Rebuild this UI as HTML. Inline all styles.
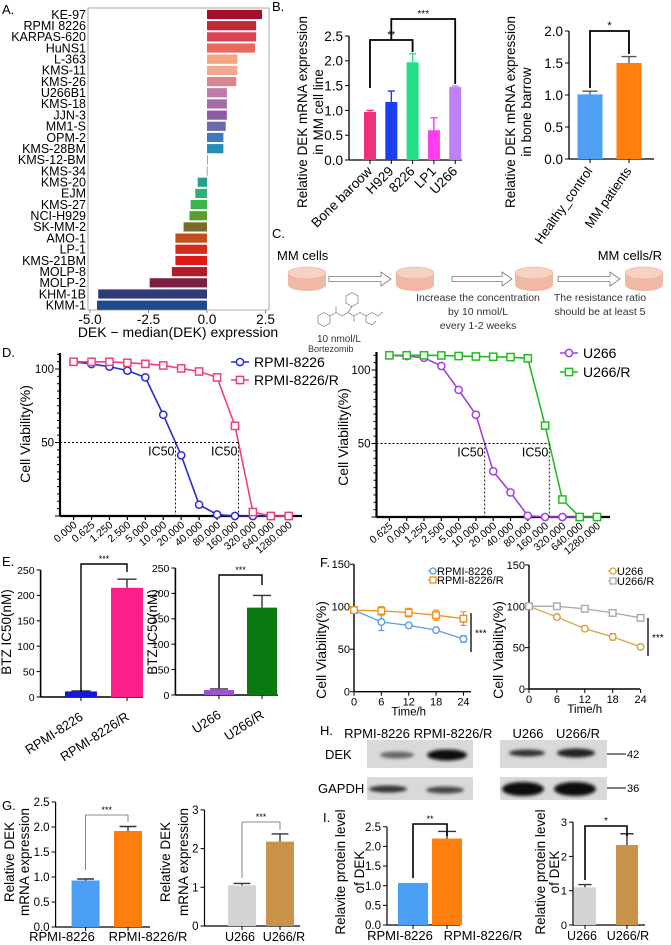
<!DOCTYPE html>
<html><head><meta charset="utf-8"><style>
body{margin:0;background:#fff}
svg{display:block;font-family:"Liberation Sans",Arial,sans-serif}
</style></head><body>
<svg id="fig" width="671" height="945" viewBox="0 0 671 945" xmlns="http://www.w3.org/2000/svg">
<defs>
<filter id="blur1" x="-20%" y="-50%" width="140%" height="200%"><feGaussianBlur stdDeviation="1.6"/></filter>
</defs>
<rect x="0" y="0" width="671" height="945" fill="#fff"/>
<text x="2" y="14" font-size="13">A.</text>
<text x="272" y="11" font-size="13">B.</text>
<text x="272" y="238" font-size="13">C.</text>
<text x="2" y="357" font-size="13">D.</text>
<text x="2" y="566" font-size="13">E.</text>
<text x="320" y="567" font-size="13">F.</text>
<text x="320" y="735" font-size="13">H.</text>
<text x="2" y="810" font-size="13">G.</text>
<text x="323" y="822" font-size="13">I.</text>

<rect x="88" y="8" width="181" height="302" fill="none" stroke="#aaa" stroke-width="1"/>
<text x="178" y="337" font-size="14" text-anchor="middle">DEK − median(DEK) expression</text>

<g>
<text x="277" y="260" font-size="13">MM cells</text>
<text x="662" y="260" font-size="13" text-anchor="end">MM cells/R</text>
<g><rect x="288" y="273" width="38" height="12" fill="#efb9a4"/><ellipse cx="307" cy="285" rx="19" ry="6" fill="#efb9a4"/><ellipse cx="307" cy="273" rx="19" ry="6" fill="#f6d2c4" stroke="#e8a890" stroke-width="0.6"/></g>
<g><rect x="396" y="273" width="38" height="12" fill="#efb9a4"/><ellipse cx="415" cy="285" rx="19" ry="6" fill="#efb9a4"/><ellipse cx="415" cy="273" rx="19" ry="6" fill="#f6d2c4" stroke="#e8a890" stroke-width="0.6"/></g>
<g><rect x="515" y="273" width="38" height="12" fill="#efb9a4"/><ellipse cx="534" cy="285" rx="19" ry="6" fill="#efb9a4"/><ellipse cx="534" cy="273" rx="19" ry="6" fill="#f6d2c4" stroke="#e8a890" stroke-width="0.6"/></g>
<g><rect x="625" y="273" width="38" height="12" fill="#efb9a4"/><ellipse cx="644" cy="285" rx="19" ry="6" fill="#efb9a4"/><ellipse cx="644" cy="273" rx="19" ry="6" fill="#f6d2c4" stroke="#e8a890" stroke-width="0.6"/></g>
<polygon points="329,276.5 381,276.5 381,272 391,279 381,286 381,281.5 329,281.5" fill="#fff" stroke="#777" stroke-width="0.8"/>
<polygon points="452,276.5 502,276.5 502,272 512,279 502,286 502,281.5 452,281.5" fill="#fff" stroke="#777" stroke-width="0.8"/>
<polygon points="558,276.5 610,276.5 610,272 620,279 610,286 610,281.5 558,281.5" fill="#fff" stroke="#777" stroke-width="0.8"/>
<text x="478" y="301" font-size="10.5" text-anchor="middle" fill="#333">Increase the concentration</text>
<text x="478" y="315" font-size="10.5" text-anchor="middle" fill="#333">by 10 nmol/L</text>
<text x="478" y="329" font-size="10.5" text-anchor="middle" fill="#333">every 1-2 weeks</text>
<text x="600" y="301" font-size="10.5" text-anchor="middle" fill="#333">The resistance ratio</text>
<text x="600" y="315" font-size="10.5" text-anchor="middle" fill="#333">should be at least 5</text>
<text x="317" y="342" font-size="10" fill="#333">10 nmol/L</text>
<text x="308" y="352" font-size="9" fill="#333">Bortezomib</text>
<g fill="none" stroke="#777" stroke-width="0.7">
<polygon points="318,316 324,312.5 330,316 330,323 324,326.5 318,323"/>
<polygon points="346,296 352,292.5 358,296 358,303 352,306.5 346,303"/>
<polyline points="330,316 336,312.5 342,316 348,312.5 352,306.5"/>
<polyline points="336,312.5 336,306"/>
<polyline points="348,312.5 354,316 360,312.5 366,316 366,322 372,325 376,321"/>
<polyline points="354,316 354,322"/>
<polyline points="366,316 372,312.5 378,316 383,312"/>
</g>
</g>
</svg>
<script>
const NS='http://www.w3.org/2000/svg';
const svg=document.getElementById('fig');
function mk(tag,attrs,parent){const e=document.createElementNS(NS,tag);for(const k in attrs)e.setAttribute(k,attrs[k]);(parent||svg).appendChild(e);return e;}
function tx(x,y,s,attrs,parent){const e=mk('text',Object.assign({x:x,y:y},attrs||{}),parent);e.textContent=s;return e;}

const aNames=['KE-97','RPMI 8226','KARPAS-620','HuNS1','L-363','KMS-11','KMS-26','U266B1','KMS-18','JJN-3','MM1-S','OPM-2','KMS-28BM','KMS-12-BM','KMS-34','KMS-20','EJM','KMS-27','NCI-H929','SK-MM-2','AMO-1','LP-1','KMS-21BM','MOLP-8','MOLP-2','KHM-1B','KMM-1'];
const aVals=[2.35,2.1,2.1,2.05,1.3,1.3,1.25,0.85,0.85,0.85,0.8,0.7,0.7,0.02,-0.01,-0.4,-0.5,-0.7,-0.75,-1.0,-1.35,-1.35,-1.35,-1.5,-2.45,-4.65,-4.7];
const aColors=['#a50f2d','#c4283c','#d94452','#e8685f','#f4a582','#f2a88e','#d8868e','#c07aa8','#a66aa6','#8c5cab','#6a6aa8','#3f7ab5','#2a8cb5','#888','#888','#2aa08a','#2fb07a','#3cb44a','#5a9e30','#7a6b28','#c05020','#d82a1a','#e01818','#b01c2a','#7a2040','#303a78','#1e4a8a'];
const aTicks=[-5,-2.5,0,2.5];
const aTickLabels=['-5.0','-2.5','0.0','2.5'];

const bCats=['Bone baroow','H929','8226','LP1','U266'];
const bVals=[0.97,1.17,1.97,0.6,1.47];
const bErrs=[0.03,0.22,0.17,0.25,0.02];
const bColors=['#f0307f','#1b3ff0','#22e08a','#ff3cf0','#c080f5'];
const bTicks=[0,0.5,1,1.5,2,2.5];
const bTickLabels=['0.0','0.5','1.0','1.5','2.0','2.5'];
const b2Cats=['Healthy_control','MM patients'];
const b2Vals=[1.01,1.5];
const b2Errs=[0.05,0.1];
const b2Ticks=[0,0.5,1,1.5,2];
const b2TickLabels=['0.0','0.5','1.0','1.5','2.0'];

const dLabels=['0.000','0.625','1.250','2.500','5.000','10.000','20.000','40.000','80.000','160.000','320.000','640.000','1280.000'];
const dBlue=[104.9,103.4,101.6,98.9,94.3,68.9,41.3,7.7,1,0,0,0,0];
const dPink=[104.9,104.9,104.9,104.2,103.5,102.4,100.4,98.3,94.3,61.3,2.7,0,0];
const dLabelsR=['0.625','0.000','1.250','2.500','5.000','10.000','20.000','40.000','80.000','160.000','320.000','640.000','1280.000'];
const dPurple=[110,109.5,108.3,102.7,86.5,69.6,31.1,16.7,0.9,0,0,0,0];
const dGreen=[110,110,110,109.9,109.5,109.2,109,108.8,107.9,62.2,11.9,0,0];
const dTicks=[50,100];

const eCats=['RPMI-8226','RPMI-8226/R'];
const eVals=[11,215];
const eErrs=[1,17];
const e2Cats=['U266','U266/R'];
const e2Vals=[10,172];
const e2Errs=[2,24];
const eTicks=[0,50,100,150,200,250];

const fTimes=[0,6,12,18,24];
const fBlue=[96,82,78,72.5,62];
const fBlueErr=[3,10,3,2,4];
const fOrange=[96,95,93,90,86];
const fOrangeErr=[3,5,5,6,8];
const fTan=[100,87,73,63,51];
const fTanErr=[0,3,3,4,1];
const fGray=[100,100,97,92,86];
const fGrayErr=[0,1,1,1,1];
const fTicks=[0,50,100,150];

const gCats=['RPMI-8226','RPMI-8226/R'];
const gVals=[0.93,1.92];
const gErrs=[0.03,0.09];
const gTicks=[0,0.5,1,1.5,2,2.5];
const gTickLabels=['0.0','0.5','1.0','1.5','2.0','2.5'];
const g2Cats=['U266','U266/R'];
const g2Vals=[1.05,2.18];
const g2Errs=[0.05,0.2];
const g2Ticks=[0,1,2,3];
const iVals=[1.07,2.2];
const iErrs=[0,0.18];
const iTicks=[0,0.5,1,1.5,2,2.5];
const i2Vals=[1.1,2.33];
const i2Errs=[0.08,0.33];
const i2Ticks=[0,1,2,3];

(function(){
  const g=mk('g',{});
  
  
  const xs=v=>207+v*23.4;
  const rowY=i=>14.5+i*11.18;
  aNames.forEach((n,i)=>{
    const v=aVals[i];
    const x0=Math.min(xs(0),xs(v)), w=Math.max(Math.abs(xs(v)-xs(0)),0.8);
    const r=mk('rect',{x:x0,y:rowY(i)-4.6,width:w,height:9.2,fill:aColors[i]},g);
    
    
    const t=tx(86,rowY(i)+4.3,n,{'font-size':12.5,'text-anchor':'end'},g);
    
    
  });
  aTicks.forEach((v,i)=>{
    const l=mk('line',{x1:xs(v),x2:xs(v),y1:310,y2:313,stroke:'#888'},g);
    
    
    const t=tx(xs(v),324,aTickLabels[i],{'font-size':13.5,'text-anchor':'middle'},g);
    
    
  });
})();

function barChart(o){
  const g=mk('g',{});
  
  
  const ys=v=>o.y0-(v-o.ticks[0])*o.k;
  const top=ys(o.ticks[o.ticks.length-1]);
  const ax=mk('line',{x1:o.ax,x2:o.ax,y1:top,y2:o.y0,stroke:'#000','stroke-width':o.aw||1.3},g);
  
  
  const bx=mk('line',{x1:o.ax,x2:o.axEnd,y1:o.y0,y2:o.y0,stroke:'#000','stroke-width':o.aw||1.3},g);
  
  
  o.ticks.forEach((v,i)=>{
    const l=mk('line',{x1:o.ax-4,x2:o.ax,y1:ys(v),y2:ys(v),stroke:'#000','stroke-width':1},g);
    
    
    const t=tx(o.ax-6,ys(v)+o.fs*0.36,o.tickLabels?o.tickLabels[i]:String(v),{'font-size':o.fs,'text-anchor':'end'},g);
    
    
  });
  o.vals.forEach((v,i)=>{
    const cx=o.x0+i*o.step;
    const r=mk('rect',{x:cx-o.bw/2,y:ys(v),width:o.bw,height:o.y0-ys(v),fill:o.colors[i]},g);
    
    
    if(o.errs[i]>0){
      const ec=o.errColor||o.colors[i];
      const e=mk('path',{d:`M${cx},${ys(v)} V${ys(v+o.errs[i])} M${cx-o.bw*0.3},${ys(v+o.errs[i])} H${cx+o.bw*0.3}`,stroke:ec,'stroke-width':1.4,fill:'none'},g);
      
      
    }
    const tk=mk('line',{x1:cx,x2:cx,y1:o.y0,y2:o.y0+4,stroke:'#000'},g);
    
    
    let t;
    if(o.rot){
      t=tx(cx+3,o.y0+o.labDy,o.cats[i],{'font-size':o.lfs,'text-anchor':'end',transform:`rotate(${o.rot},${cx+3},${o.y0+o.labDy})`},g);
    }else{
      const lx=o.labX?o.labX[i]:cx;
      t=tx(lx,o.y0+o.labDy,o.cats[i],{'font-size':o.lfs,'text-anchor':'middle'},g);
    }
    
    
  });
  o.title.forEach((s,j)=>{
    const x=o.titleX[j];
    const t=tx(x,o.titleY,s,{'font-size':o.tfs,'text-anchor':'middle',transform:`rotate(-90,${x},${o.titleY})`},g);
    
    
  });
  (o.brackets||[]).forEach(b=>{
    const xa=o.x0+b.a*o.step, xb=o.x0+b.b*o.step;
    const p=mk('path',{d:`M${xa},${b.ya} V${b.y} H${xb} V${b.yb}`,stroke:b.color||'#000','stroke-width':b.w||1.8,fill:'none'},g);
    
    
    const s=tx((xa+xb)/2,b.y-2,b.s,{'font-size':b.fs||10,'text-anchor':'middle'},g);
    
    
  });
  return ys;
}

barChart({name:'panel-b-cell-line-chart',ax:349,axEnd:462,y0:160,k:49.6,ticks:bTicks,tickLabels:bTickLabels,fs:13.5,
  cats:bCats,vals:bVals,errs:bErrs,colors:bColors,x0:370,step:21.3,bw:12,rot:-45,labDy:12,lfs:13.5,
  title:['Relative DEK mRNA expression','in MM cell line'],titleX:[307,323],titleY:112,tfs:13.5,
  brackets:[{a:0,b:2,y:40,ya:88,yb:52,s:'**',fs:10},{a:1,b:4,y:19,ya:40,yb:84,s:'***',fs:10}]});
barChart({name:'panel-b-bone-marrow-chart',ax:569,axEnd:654,y0:159,k:64,ticks:b2Ticks,tickLabels:b2TickLabels,fs:13.5,
  cats:b2Cats,vals:b2Vals,errs:b2Errs,colors:['#4f9ff5','#ff7f0e'],x0:590,step:39,bw:25,rot:-55,labDy:12,lfs:13,errColor:'#555',
  title:['Relative DEK mRNA expression','in bone barrow'],titleX:[515,531],titleY:112,tfs:13.5,
  brackets:[{a:0,b:1,y:31,ya:88,yb:54,s:'*',fs:11}]});

function doseChart(o){
  const g=mk('g',{});
  
  
  const ys=v=>o.y0-v*1.47;
  const xs=i=>o.x0+i*o.step;
  const ya=mk('line',{x1:o.ax,x2:o.ax,y1:o.top,y2:o.y0,stroke:'#000','stroke-width':2.2},g);
  
  
  const xa=mk('line',{x1:o.ax,x2:o.axEnd,y1:o.y0,y2:o.y0,stroke:'#000','stroke-width':2.2},g);
  
  
  for(let v=0;v<=110;v+=5){
    const m=mk('line',{x1:o.ax-(v%50===0?5:3),x2:o.ax,y1:ys(v),y2:ys(v),stroke:'#000','stroke-width':1},g);
    
    
  }
  dTicks.forEach(v=>{
    const t=tx(o.ax-6,ys(v)+4,String(v),{'font-size':11.5,'text-anchor':'end'},g);
    
    
  });
  o.labels.forEach((s,i)=>{
    const tk=mk('line',{x1:xs(i),x2:xs(i),y1:o.y0,y2:o.y0+4,stroke:'#000','stroke-width':1.2},g);
    
    
    const lx=xs(i)+4, ly=o.y0+10;
    const t=tx(lx,ly,s,{'font-size':10.5,'text-anchor':'end',transform:`rotate(-40,${lx},${ly})`},g);
    
    
  });
  const yt=tx(o.titleX,o.titleY,'Cell Viability(%)',{'font-size':14,'text-anchor':'middle',transform:`rotate(-90,${o.titleX},${o.titleY})`},g);
  
  
  const ic=[];
  o.series.forEach((s,si)=>{
    const d=s.data;
    const pl=mk('polyline',{points:d.map((v,i)=>xs(i)+','+ys(v)).join(' '),fill:'none',stroke:s.color,'stroke-width':1.6},g);
    
    
    d.forEach((v,i)=>{
      let m;
      if(s.shape==='circle') m=mk('circle',{cx:xs(i),cy:ys(v),r:3.6,fill:'#fff',stroke:s.color,'stroke-width':1.5},g);
      else m=mk('rect',{x:xs(i)-3.6,y:ys(v)-3.6,width:7.2,height:7.2,fill:'#fff',stroke:s.color,'stroke-width':1.5},g);
      
      
    });
    for(let i=0;i<d.length-1;i++){ if(d[i]>=50&&d[i+1]<50){ic.push(xs(i+(d[i]-50)/(d[i]-d[i+1])));break;} }
    const ly=o.legY[si];
    const ll=mk('line',{x1:o.legX,x2:o.legX+18,y1:ly,y2:ly,stroke:s.color,'stroke-width':1.6},g);
    
    
    let lm;
    if(s.shape==='circle') lm=mk('circle',{cx:o.legX+9,cy:ly,r:3.6,fill:'#fff',stroke:s.color,'stroke-width':1.5},g);
    else lm=mk('rect',{x:o.legX+5.4,y:ly-3.6,width:7.2,height:7.2,fill:'#fff',stroke:s.color,'stroke-width':1.5},g);
    
    
    const lt=tx(o.legX+23,ly+5,s.label,{'font-size':14},g);
    
    
  });
  const hx=Math.max(...ic);
  const hl=mk('line',{x1:o.ax,x2:hx,y1:ys(50),y2:ys(50),stroke:'#000','stroke-width':0.9,'stroke-dasharray':'2,2'},g);
  
  
  ic.forEach(x=>{
    const vl=mk('line',{x1:x,x2:x,y1:ys(50),y2:o.y0,stroke:'#000','stroke-width':0.9,'stroke-dasharray':'2,2'},g);
    
    
    const t=tx(x-1,ys(50)+13,'IC50',{'font-size':12.5,'text-anchor':'end'},g);
    
    
  });
}
doseChart({name:'panel-d-rpmi-dose-chart',ax:60,axEnd:302,top:353,y0:516,x0:73.6,step:17.93,labels:dLabels,titleX:30,titleY:434,
  legX:231,legY:[362,380],series:[{key:'rpmi-8226',label:'RPMI-8226',data:dBlue,color:'#2a2ad8',shape:'circle'},{key:'rpmi-8226-r',label:'RPMI-8226/R',data:dPink,color:'#f0407a',shape:'square'}]});
doseChart({name:'panel-d-u266-dose-chart',ax:376.5,axEnd:610,top:352,y0:517,x0:389.4,step:17.3,labels:dLabelsR,titleX:348,titleY:437,
  legX:560,legY:[353,372],series:[{key:'u266',label:'U266',data:dPurple,color:'#a040e0',shape:'circle'},{key:'u266-r',label:'U266/R',data:dGreen,color:'#22bb22',shape:'square'}]});

barChart({name:'panel-e-rpmi-ic50-chart',ax:40.6,axEnd:143,y0:697,k:0.508,ticks:eTicks,fs:10.5,
  cats:eCats,vals:eVals,errs:eErrs,colors:['#1515e0','#ff1f8a'],x0:81,step:46,bw:32,errColor:'#333',rot:-33,labDy:22,lfs:13,
  title:['BTZ IC50(nM)'],titleX:[11],titleY:632,tfs:13.5,aw:1.6,
  brackets:[{a:0,b:1,y:564,ya:692,yb:572,s:'***',fs:9,w:1.4}]});
barChart({name:'panel-e-u266-ic50-chart',ax:175.4,axEnd:278,y0:695,k:0.508,ticks:eTicks,fs:10.5,
  cats:e2Cats,vals:e2Vals,errs:e2Errs,colors:['#a050d0','#0a7a10'],x0:219,step:43,bw:30,errColor:'#333',rot:-33,labDy:22,lfs:13,
  title:['BTZ IC50(nM)'],titleX:[157],titleY:632,tfs:13.5,aw:1.6,
  brackets:[{a:0,b:1,y:575,ya:688,yb:585,s:'***',fs:9,w:1.4}]});

function timeChart(o){
  const g=mk('g',{});
  
  
  const ys=v=>o.y0-v*o.k;
  const xs=t=>o.ax+t*o.kx;
  const ya=mk('line',{x1:o.ax,x2:o.ax,y1:ys(150),y2:o.y0,stroke:'#000','stroke-width':1.4},g);
  
  
  const xa=mk('line',{x1:o.ax,x2:o.axEnd,y1:o.y0,y2:o.y0,stroke:'#000','stroke-width':1.4},g);
  
  
  fTicks.forEach(v=>{
    const l=mk('line',{x1:o.ax-4,x2:o.ax,y1:ys(v),y2:ys(v),stroke:'#000'},g);
    
    
    const t=tx(o.ax-4,ys(v)+4,String(v),{'font-size':11,'text-anchor':'end'},g);
    
    
  });
  fTimes.forEach(tm=>{
    const l=mk('line',{x1:xs(tm),x2:xs(tm),y1:o.y0,y2:o.y0+4,stroke:'#000'},g);
    
    
    const t=tx(xs(tm),o.y0+14,String(tm),{'font-size':11,'text-anchor':'middle'},g);
    
    
  });
  const xt=tx(xs(12),o.y0+24,'Time/h',{'font-size':11.5,'text-anchor':'middle'},g);
  
  
  const yt=tx(o.titleX,650,'Cell Viability(%)',{'font-size':14,'text-anchor':'middle',transform:`rotate(-90,${o.titleX},650)`},g);
  
  
  o.series.forEach((s,si)=>{
    const pl=mk('polyline',{points:fTimes.map((t,i)=>xs(t)+','+ys(s.data[i])).join(' '),fill:'none',stroke:s.color,'stroke-width':1.3},g);
    
    
    fTimes.forEach((t,i)=>{
      const v=s.data[i], e=s.err[i];
      if(e>0){
        const eb=mk('path',{d:`M${xs(t)},${ys(v-e)} V${ys(v+e)} M${xs(t)-3},${ys(v-e)} H${xs(t)+3} M${xs(t)-3},${ys(v+e)} H${xs(t)+3}`,stroke:s.color,'stroke-width':1.2,fill:'none'},g);
        
        
      }
      let m;
      if(s.shape==='circle') m=mk('circle',{cx:xs(t),cy:ys(v),r:3.3,fill:'#fff',stroke:s.color,'stroke-width':1.4},g);
      else m=mk('rect',{x:xs(t)-3.3,y:ys(v)-3.3,width:6.6,height:6.6,fill:'#fff',stroke:s.color,'stroke-width':1.4},g);
      
      
    });
    const ly=o.legY[si];
    const ll=mk('line',{x1:o.legX-5,x2:o.legX+5,y1:ly,y2:ly,stroke:s.color,'stroke-width':1.2},g);
    
    
    let lm;
    if(s.shape==='circle') lm=mk('circle',{cx:o.legX,cy:ly,r:3,fill:'#fff',stroke:s.color,'stroke-width':1.3},g);
    else lm=mk('rect',{x:o.legX-3,y:ly-3,width:6,height:6,fill:'#fff',stroke:s.color,'stroke-width':1.3},g);
    
    
    const lt=tx(o.legX+4,ly+4,s.label,{'font-size':11},g);
    
    
  });
  const sb=mk('line',{x1:o.sigX,x2:o.sigX,y1:o.sigY[0],y2:o.sigY[1],stroke:'#000','stroke-width':1.3},g);
  
  
  const st=tx(o.sigX+4,(o.sigY[0]+o.sigY[1])/2+4,'***',{'font-size':10},g);
  
  
}
timeChart({name:'panel-f-rpmi-time-chart',ax:354,axEnd:471,y0:691.7,k:0.85,kx:4.56,titleX:326,legX:433,legY:[571,580],sigX:471,sigY:[613,652],
  series:[{key:'rpmi-8226',label:'RPMI-8226',data:fBlue,err:fBlueErr,color:'#5a9ee8',shape:'circle'},{key:'rpmi-8226-r',label:'RPMI-8226/R',data:fOrange,err:fOrangeErr,color:'#f0901a',shape:'square'}]});
timeChart({name:'panel-f-u266-time-chart',ax:529,axEnd:640,y0:689,k:0.827,kx:4.65,titleX:503,legX:613,legY:[571,581],sigX:648,sigY:[618,656],
  series:[{key:'u266',label:'U266',data:fTan,err:fTanErr,color:'#d8a040',shape:'circle'},{key:'u266-r',label:'U266/R',data:fGray,err:fGrayErr,color:'#a8a8a8',shape:'square'}]});

(function(){
  const g=mk('g',{});
  
  
  const cols=[['RPMI-8226',377],['RPMI-8226/R',453],['U266',528],['U266/R',578]];
  cols.forEach(c=>{
    const t=tx(c[1],738,c[0],{'font-size':13,'text-anchor':'middle'},g);
    
    
  });
  const boxes=[[367,740,106,28],[500,740,107,28],[367,777,106,23],[500,777,107,23]];
  boxes.forEach(b=>{
    const r=mk('rect',{x:b[0],y:b[1],width:b[2],height:b[3],fill:'#d9d9d9'},g);
    
    
  });
  const bands=[[397,755,34,3.5,'#666'],[447,755,40,5.5,'#111'],[527,753,36,3.5,'#333'],[576,753,38,4.5,'#222'],
               [388,789,38,3.5,'#333'],[445,790,38,3.5,'#444'],[523,789,42,7,'#0a0a0a'],[575,789,42,7,'#0a0a0a']];
  bands.forEach(b=>{
    const e=mk('ellipse',{cx:b[0],cy:b[1],rx:b[2]/2,ry:b[3],fill:b[4],filter:'url(#blur1)'},g);
    
    
  });
  const l1=tx(325,759,'DEK',{'font-size':13},g);
  
  
  const l2=tx(318,793,'GAPDH',{'font-size':13},g);
  
  
  const m1=mk('line',{x1:607,x2:626,y1:754,y2:754,stroke:'#000'},g);
  
  
  const m1t=tx(627,758,'42',{'font-size':11},g);
  
  
  const m2=mk('line',{x1:607,x2:626,y1:788,y2:788,stroke:'#000'},g);
  
  
  const m2t=tx(627,792,'36',{'font-size':11},g);
  
  
})();

barChart({name:'panel-g-rpmi-mrna-chart',ax:55.6,axEnd:150,y0:927,k:50,ticks:gTicks,tickLabels:gTickLabels,fs:11.5,
  cats:gCats,vals:gVals,errs:gErrs,colors:['#4a9ff5','#ff7f0e'],x0:85.6,step:42.4,bw:28,errColor:'#333',labDy:14,lfs:13,labX:[62,148],
  title:['Relative DEK','mRNA expression'],titleX:[14,29],titleY:862,tfs:13.5,aw:1.2,
  brackets:[{a:0,b:1,y:815,ya:870,yb:822,s:'***',fs:9,w:0.8,color:'#666'}]});
barChart({name:'panel-g-u266-mrna-chart',ax:204.5,axEnd:300,y0:926,k:38.7,ticks:g2Ticks,fs:11.5,
  cats:g2Cats,vals:g2Vals,errs:g2Errs,colors:['#d3d3d3','#c8924a'],x0:242,step:38,bw:28,errColor:'#333',labDy:15,lfs:12.5,labX:[240,284],
  title:['Relative DEK','mRNA expression'],titleX:[170,188],titleY:862,tfs:13.5,aw:1.2,
  brackets:[{a:0,b:1,y:822,ya:878,yb:830,s:'***',fs:9,w:0.8,color:'#666'}]});

barChart({name:'panel-i-rpmi-protein-chart',ax:387,axEnd:460,y0:925,k:39.3,ticks:iTicks,tickLabels:gTickLabels,fs:11.5,
  cats:gCats,vals:iVals,errs:iErrs,colors:['#4a9ff5','#ff7f0e'],x0:413,step:34,bw:30,errColor:'#333',labDy:15,lfs:13,labX:[400,483],
  title:['Relavite protein level','of DEK'],titleX:[345,364],titleY:872,tfs:13.5,aw:1.2,
  brackets:[{a:0,b:1,y:824,ya:878,yb:836,s:'**',fs:9,w:1.6}]});
barChart({name:'panel-i-u266-protein-chart',ax:573,axEnd:645,y0:925,k:34.3,ticks:i2Ticks,fs:11,
  cats:g2Cats,vals:i2Vals,errs:i2Errs,colors:['#d3d3d3','#c8924a'],x0:585,step:42,bw:22,errColor:'#333',labDy:15,lfs:12.5,labX:[582,628],
  title:['Relative protein level','of DEK'],titleX:[545,559],titleY:872,tfs:13.5,aw:1.2,
  brackets:[{a:0,b:1,y:826,ya:880,yb:836,s:'*',fs:10,w:1.6}]});
</script>
</body></html>
